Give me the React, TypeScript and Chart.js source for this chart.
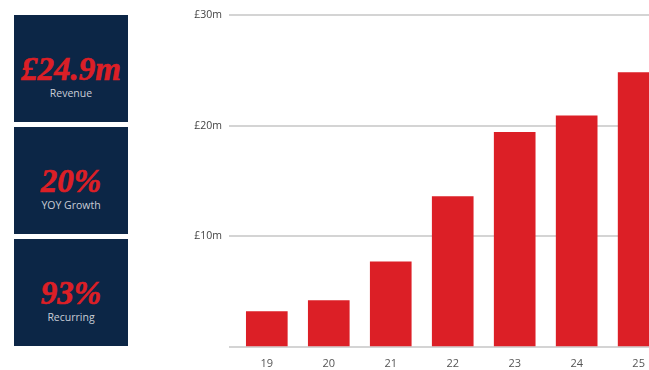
import React, { useEffect, useRef } from "react";
import { Chart, registerables } from "chart.js";

Chart.register(...registerables);

const categories = ["19", "20", "21", "22", "23", "24", "25"];
const revenue = [3.2, 4.2, 7.7, 13.6, 19.4, 20.9, 24.8];
const yTicks = [10, 20, 30];
const kpiValues = ["£24.9m", "20%", "93%"];
const kpiLabels = ["Revenue", "YOY Growth", "Recurring"];

const NAVY = "#0c2646";
const RED = "#dc1f26";

export default function App() {
  const ref = useRef<HTMLCanvasElement | null>(null);

  useEffect(() => {
    document.body.style.overflow = "hidden";
    const ctx = ref.current!;
    const chart = new Chart(ctx, {
      type: "bar",
      data: {
        datasets: [
          {
            data: categories.map((c, i) => ({ x: Number(c), y: revenue[i] })),
            backgroundColor: RED,
            barThickness: 41,
            borderWidth: 0,
          },
        ],
      },
      options: {
        animation: false,
        responsive: false,
        maintainAspectRatio: false,
        layout: { padding: { top: 15, right: 0, bottom: 0, left: 0 } },
        plugins: { legend: { display: false }, tooltip: { enabled: false } },
        scales: {
          x: {
            type: "linear",
            offset: false,
            min: 18.39,
            max: 25.99,
            grid: { display: false },
            border: { display: false },
            afterFit: (s: any) => {
              s.height = 23;
            },
            afterBuildTicks: (s: any) => {
              s.ticks = categories.map((c) => ({ value: Number(c) }));
            },
            ticks: {
              color: "#555",
              font: { family: "'Open Sans', sans-serif", size: 11 },
              padding: 2,
              maxRotation: 0,
              autoSkip: false,
              callback: (v: any) => String(v),
            },
          },
          y: {
            min: 0,
            max: 30,
            afterFit: (s: any) => {
              s.width = 49;
            },
            afterBuildTicks: (s: any) => {
              s.ticks = [0, ...yTicks].map((v) => ({ value: v }));
            },
            grid: { color: "#d4d4d4", lineWidth: 2, drawTicks: false },
            border: { display: false },
            ticks: {
              color: "#444",
              padding: 7,
              font: { family: "'Open Sans', sans-serif", size: 10.5 },
              callback: (v: any) => (v === 0 ? "" : "£" + v + "m"),
            },
          },
        },
      },
    });
    return () => chart.destroy();
  }, []);

  const boxTops = [15, 127, 239];

  return (
    <div
      style={{
        position: "fixed",
        left: 0,
        top: 0,
        width: 649,
        height: 370,
        overflow: "hidden",
        background: "#fff",
      }}
    >
      {kpiValues.map((v, i) => (
        <div
          key={i}
          style={{
            position: "absolute",
            left: 14,
            top: boxTops[i],
            width: 114,
            height: 107,
            background: NAVY,
          }}
        >
          <div
            style={{
              position: "absolute",
              left: 0,
              right: 0,
              top: 34,
              textAlign: "center",
              color: RED,
              fontFamily: "'Liberation Serif', 'DejaVu Serif', serif",
              fontWeight: 700,
              fontStyle: "italic",
              fontSize: 33,
              lineHeight: "40px",
              whiteSpace: "nowrap",
              WebkitTextStroke: "0.6px " + RED,
            }}
          >
            {v}
          </div>
          <div
            style={{
              position: "absolute",
              left: 0,
              right: 0,
              top: 71,
              textAlign: "center",
              color: "#c9cdd6",
              fontFamily: "'Open Sans', sans-serif",
              fontSize: 10.5,
              lineHeight: "14px",
            }}
          >
            {kpiLabels[i]}
          </div>
        </div>
      ))}
      <canvas
        ref={ref}
        width={520}
        height={370}
        style={{ position: "absolute", left: 180, top: 0, width: 520, height: 370 }}
      />
    </div>
  );
}
